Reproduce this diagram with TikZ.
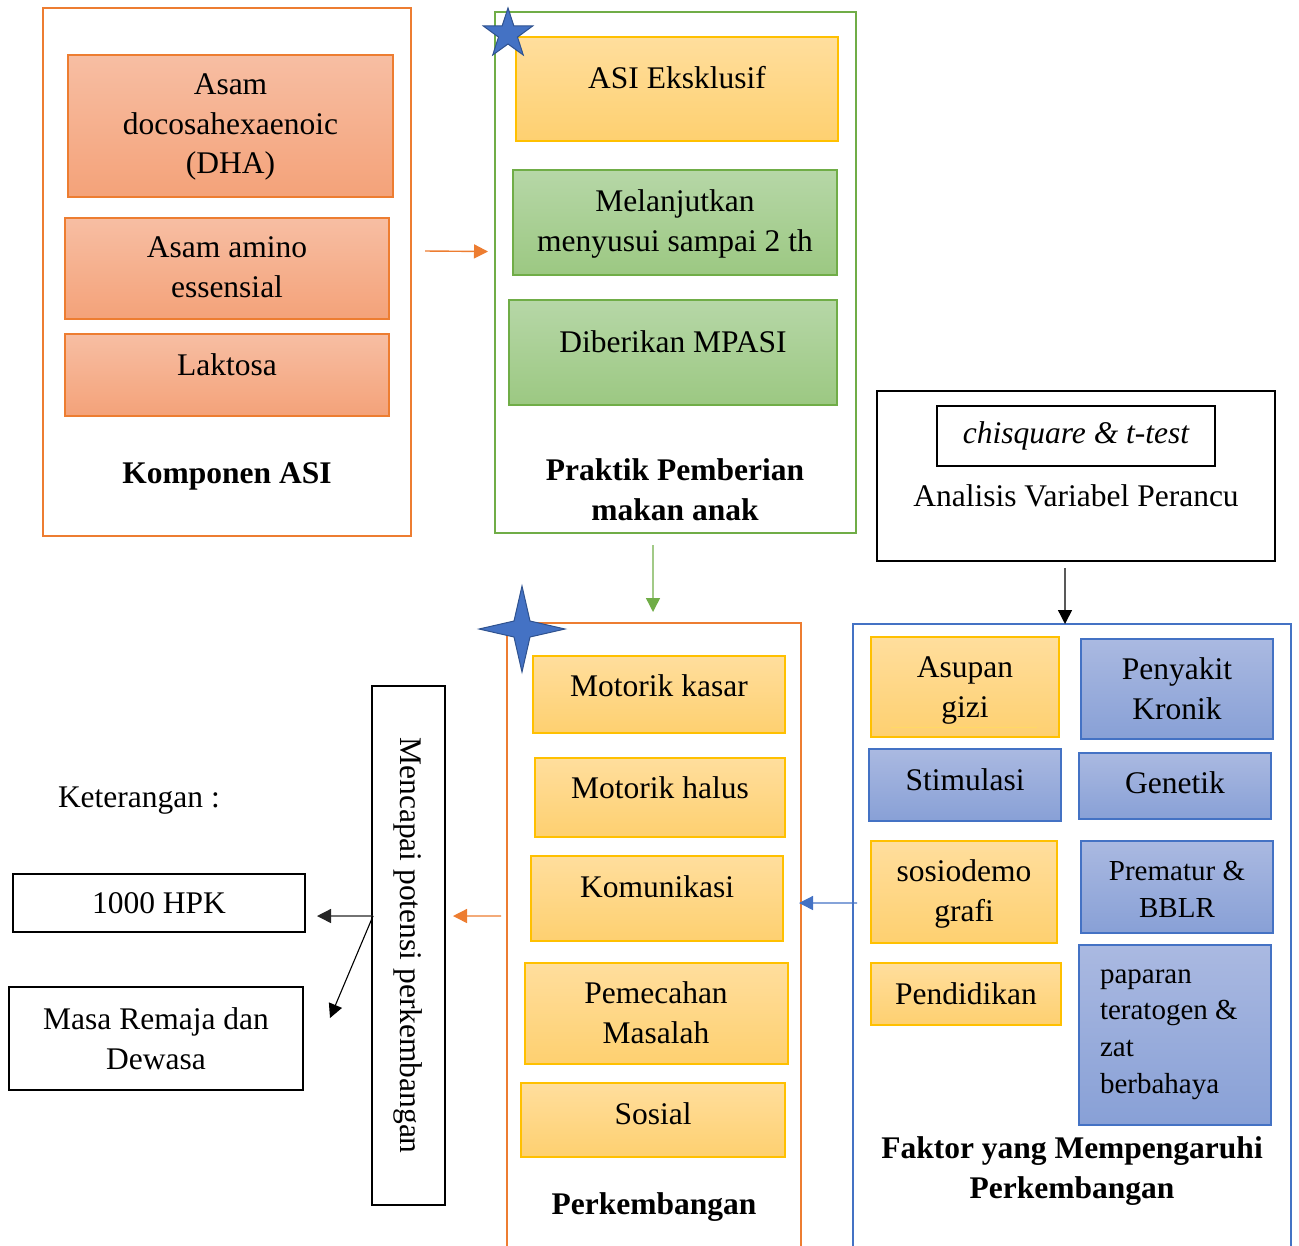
\documentclass[tikz,border=0pt]{standalone}
\usepackage{fontspec}
\setmainfont{Liberation Serif}
\usepackage{tikz}
\usetikzlibrary{shapes.geometric,arrows.meta}
\definecolor{lineorange}{RGB}{237,125,49}
\definecolor{lineyellow}{RGB}{255,192,0}
\definecolor{linegreen}{RGB}{112,173,71}
\definecolor{lineblue}{RGB}{68,114,196}
\definecolor{stardark}{RGB}{47,82,143}
\definecolor{salmontop}{RGB}{247,190,163}
\definecolor{salmonbot}{RGB}{244,162,121}
\definecolor{goldtop}{RGB}{255,222,157}
\definecolor{goldbot}{RGB}{254,208,112}
\definecolor{greentop}{RGB}{182,215,167}
\definecolor{greenbot}{RGB}{156,200,130}
\definecolor{bluetop}{RGB}{170,185,225}
\definecolor{bluebot}{RGB}{136,160,214}
\newcommand{\txtsize}{\fontsize{31.5bp}{39.5bp}\selectfont}
\newcommand{\smallsize}{\fontsize{29bp}{36.8bp}\selectfont}

\begin{document}
\begin{tikzpicture}[x=1bp,y=-1bp,inner sep=0pt,outer sep=0pt,
  grp/.style={draw,line width=2bp,anchor=north west},
  cell/.style={draw,line width=1.3bp,anchor=north west},
  salmon/.style={cell,draw=lineorange,top color=salmontop,bottom color=salmonbot},
  gold/.style={cell,draw=lineyellow,top color=goldtop,bottom color=goldbot},
  leaf/.style={cell,draw=linegreen,top color=greentop,bottom color=greenbot},
  sky/.style={cell,draw=lineblue,top color=bluetop,bottom color=bluebot},
  blackbox/.style={draw=black,line width=2.4bp,anchor=north west,align=center,font=\txtsize},
  txt/.style={anchor=north,align=center,font=\txtsize},
  ttl/.style={anchor=north,align=center,font=\txtsize\bfseries},
  link/.style={line width=1.4bp,-{Triangle[length=14bp,width=14bp]}}]
  \useasboundingbox (0,0) rectangle (1299,1245);
  \node[grp,draw=lineorange,minimum width=368bp,minimum height=528bp] (komponen) at (43,8) {};
  \node[salmon,minimum width=325bp,minimum height=142bp] (dha) at (68,55) {};
  \node[salmon,minimum width=324bp,minimum height=101bp] (amino) at (65,218) {};
  \node[salmon,minimum width=324bp,minimum height=82bp] (laktosa) at (65,334) {};
  \node[txt] (dhaT) at (230.5,74) {Asam\\docosahexaenoic\\(DHA)};
  \node[txt] (aminoT) at (227,237) {Asam amino\\essensial};
  \node[txt] (laktosaT) at (227,354) {Laktosa};
  \node[ttl] (komponenT) at (227,463) {Komponen ASI};
  \node[grp,draw=linegreen,minimum width=361bp,minimum height=521bp] (praktik) at (495,12) {};
  \node[gold,minimum width=322bp,minimum height=104bp] (eksklusif) at (516,37) {};
  \node[leaf,minimum width=324bp,minimum height=105bp] (lanjut) at (513,170) {};
  \node[leaf,minimum width=328bp,minimum height=105bp] (mpasi) at (509,300) {};
  \node[txt] (eksklusifT) at (677,66) {ASI Eksklusif};
  \node[txt] (lanjutT) at (675,190) {Melanjutkan\\menyusui sampai 2 th};
  \node[txt] (mpasiT) at (673,331) {Diberikan MPASI};
  \node[ttl] (praktikT) at (675,459) {Praktik Pemberian\\makan anak};
  \node[star,star points=5,star point ratio=2.6,minimum size=52bp,fill=lineblue,draw=stardark,line width=1bp] (bintang) at (508,34) {};
  \node[draw=black,line width=1.5bp,anchor=north west,minimum width=398bp,minimum height=170bp] (analisis) at (877,391) {};
  \node[blackbox,minimum width=278bp,minimum height=60bp,font=\txtsize\itshape] (uji) at (937,406) {\raisebox{-3bp}{chisquare \& t-test}};
  \node[txt] (analisisT) at (1076,485) {Analisis Variabel Perancu};
  \node[grp,draw=lineorange,minimum width=294bp,minimum height=629bp] (perk) at (507,623) {};
  \node[gold,minimum width=252bp,minimum height=77bp] (kasar) at (533,656) {};
  \node[gold,minimum width=250bp,minimum height=79bp] (halus) at (535,758) {};
  \node[gold,minimum width=252bp,minimum height=85bp] (komunikasi) at (531,856) {};
  \node[gold,minimum width=263bp,minimum height=101bp] (pemecahan) at (525,963) {};
  \node[gold,minimum width=264bp,minimum height=74bp] (sosial) at (521,1083) {};
  \node[txt] (kasarT) at (659,675) {Motorik kasar};
  \node[txt] (halusT) at (660,777) {Motorik halus};
  \node[txt] (komunikasiT) at (657,876) {Komunikasi};
  \node[txt] (pemecahanT) at (656,982) {Pemecahan\\Masalah};
  \node[txt] (sosialT) at (653,1103) {Sosial};
  \node[ttl] (perkT) at (654,1193) {Perkembangan};
  \node[star,star points=4,star point ratio=3.8,minimum size=86bp,fill=lineblue,draw=stardark,line width=1bp] (bintang4) at (522,629) {};
  \node[grp,draw=lineblue,minimum width=438bp,minimum height=628bp] (faktor) at (853,624) {};
  \node[gold,minimum width=188bp,minimum height=100bp] (asupan) at (871,637) {};
  \node[sky,minimum width=192bp,minimum height=72bp] (stimulasi) at (869,749) {};
  \node[gold,minimum width=186bp,minimum height=102bp] (sosio) at (871,841) {};
  \node[gold,minimum width=190bp,minimum height=62bp] (pendidikan) at (871,963) {};
  \node[sky,minimum width=192bp,minimum height=100bp] (penyakit) at (1081,639) {};
  \node[sky,minimum width=192bp,minimum height=66bp] (genetik) at (1079,753) {};
  \node[sky,minimum width=192bp,minimum height=92bp] (prematur) at (1081,841) {};
  \node[sky,minimum width=192bp,minimum height=180bp] (paparan) at (1079,945) {};
  \draw[lineyellow!60,line width=0.6bp] (891,727) -- (1037,727);
  \node[txt] (asupanT) at (965,657) {Asupan\\gizi};
  \node[txt] (stimulasiT) at (965,769) {Stimulasi};
  \node[txt] (sosioT) at (964,860) {sosiodemo\\grafi};
  \node[txt] (pendidikanT) at (966,983) {Pendidikan};
  \node[txt] (penyakitT) at (1177,658) {Penyakit\\Kronik};
  \node[txt] (genetikT) at (1175,772) {Genetik};
  \node[txt,font=\smallsize] (prematurT) at (1177,861) {Prematur \&\\BBLR};
  \node[txt,anchor=north west,align=left,font=\smallsize] (paparanT) at (1100,963) {\vphantom{b}paparan\\teratogen \&\\zat\\berbahaya};
  \node[ttl] (faktorT) at (1072,1137) {Faktor yang Mempengaruhi\\Perkembangan};
  \node[draw=black,line width=2.4bp,rotate=-90,minimum width=519bp,minimum height=73bp,font=\txtsize] (potensi) at (408.5,945.5) {Mencapai potensi perkembangan};
  \node[txt,anchor=north west] (ket) at (58,787) {Keterangan :};
  \node[blackbox,minimum width=292bp,minimum height=58bp] (hpk) at (13,874) {1000 HPK};
  \node[blackbox,minimum width=294bp,minimum height=103bp] (remaja) at (9,987) {Masa Remaja dan\\Dewasa};
  \coordinate (fork) at ([xshift=1bp,yshift=29.5bp]potensi.south);
  \coordinate (remajaTip) at (330,1018);
  \draw[link,lineorange] ([xshift=14bp,yshift=21bp]komponen.east) -- ([xshift=-7bp,yshift=21bp]praktik.west);
  \draw[link,linegreen] ([xshift=-22.5bp,yshift=-12bp]praktik.south) -- ([xshift=-1bp,yshift=11bp]perk.north);
  \draw[link,black] ([xshift=-11bp,yshift=-7bp]analisis.south) -- ([xshift=-7bp]faktor.north);
  \draw[link,lineblue] ([xshift=4bp,yshift=35bp]faktor.west) -- ([xshift=-2bp,yshift=34.5bp]perk.east);
  \draw[link,lineorange] ([xshift=-6bp,yshift=21.5bp]perk.west) -- ([xshift=8bp,yshift=29.5bp]potensi.north);
  \draw[link,black!85] (fork) -- ([xshift=12bp,yshift=-13bp]hpk.east);
  \draw[link,black,line width=1.1bp] (fork) -- (remajaTip);
\end{tikzpicture}
\end{document}
